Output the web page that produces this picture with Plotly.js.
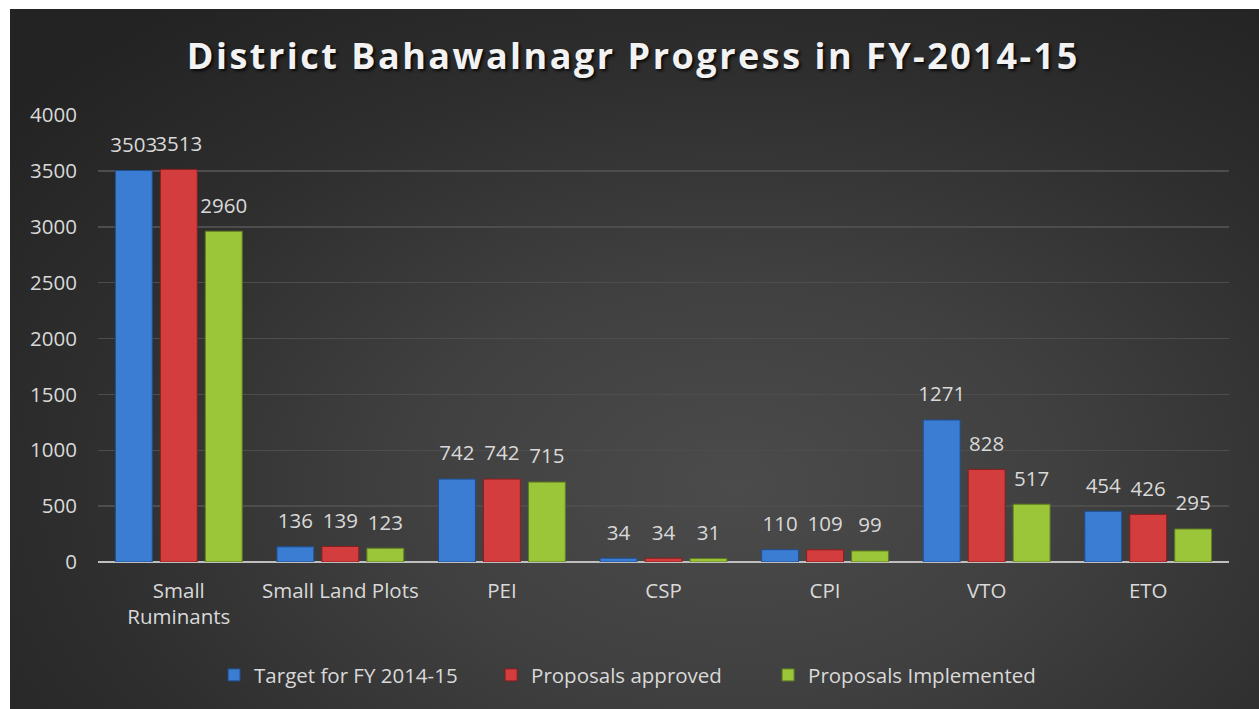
<!DOCTYPE html>
<html>
<head>
<meta charset="utf-8">
<script src="https://cdn.plot.ly/plotly-3.0.1.min.js"></script>
<style>
  html, body { margin:0; padding:0; background:#ffffff; width:1259px; height:709px; overflow:hidden; }
  #bg { position:absolute; left:10px; top:9px; width:1249px; height:700px;
        background: radial-gradient(ellipse 75% 85% at 58% 68%, #4b4b4b 0%, #404040 35%, #2e2e2e 70%, #232323 100%); }
  #chart { position:absolute; left:0; top:0; width:1259px; height:709px; }
  #chart .gtitle { letter-spacing: 2.5px; text-shadow: 2px 2px 3px rgba(0,0,0,0.8); }
</style>
</head>
<body>
<div id="bg"></div>
<div id="chart"></div>
<script>
const categories = ["Small<br>Ruminants", "Small Land Plots", "PEI", "CSP", "CPI", "VTO", "ETO"];
const seriesNames = ["Target for FY 2014-15", "Proposals approved", "Proposals Implemented"];
const targetValues = [3503, 136, 742, 34, 110, 1271, 454];
const approvedValues = [3513, 139, 742, 34, 109, 828, 426];
const implementedValues = [2960, 123, 715, 31, 99, 517, 295];
const yTicks = [0, 500, 1000, 1500, 2000, 2500, 3000, 3500, 4000];

const colors = ["#3b7dd3", "#d43d3d", "#9cc63a"];
const lineColors = ["#1f4f8f", "#8a1f1f", "#5f7d1f"];
const seriesValues = [targetValues, approvedValues, implementedValues];

const BARGAP = 0.165;
const traces = [];
seriesValues.forEach((vals, i) => {
  traces.push({
    type: 'bar', name: seriesNames[i], x: categories, y: vals,
    marker: { color: colors[i], line: { color: lineColors[i], width: 1 } },
    hoverinfo: 'x+y'
  });
});
seriesValues.forEach((vals, i) => {
  traces.push({
    type: 'scatter', mode: 'markers+text', x: categories, y: vals,
    text: vals.map(String), textposition: 'top center',
    textfont: { family: 'Open Sans, sans-serif', size: 20.5, color: '#d9d9d9' },
    marker: { size: 20, color: 'rgba(0,0,0,0)' },
    showlegend: false, hoverinfo: 'skip', cliponaxis: false
  });
});

const layout = {
  width: 1259, height: 709,
  paper_bgcolor: 'rgba(0,0,0,0)', plot_bgcolor: 'rgba(0,0,0,0)',
  margin: { l: 98, r: 30, t: 115, b: 147 },
  barmode: 'group', bargap: BARGAP, bargroupgap: 0.18,
  scattermode: 'group', scattergap: BARGAP,
  font: { family: 'Open Sans, sans-serif', color: '#d9d9d9', size: 20.5 },
  title: {
    text: '<b>District Bahawalnagr Progress in FY-2014-15</b>',
    font: { family: 'Open Sans, sans-serif', size: 36, color: '#f2f2f2' },
    x: 0.503, xref: 'container', xanchor: 'center',
    y: 0.92, yref: 'container', yanchor: 'middle'
  },
  xaxis: {
    type: 'category', showgrid: false, zeroline: false,
    showline: false, ticks: '',
    tickfont: { family: 'Open Sans, sans-serif', size: 20.5, color: '#d9d9d9' },
    ticklabelstandoff: 14
  },
  yaxis: {
    range: [0, 4000], tickvals: yTicks, ticktext: yTicks.map(String),
    showgrid: true, gridcolor: '#4d4d4d', gridwidth: 1.5,
    zeroline: true, zerolinecolor: '#bfbfbf', zerolinewidth: 2.5,
    showline: false, ticks: '',
    tickfont: { family: 'Open Sans, sans-serif', size: 20.5, color: '#d9d9d9' },
    ticklabelstandoff: 20
  },
  legend: {
    orientation: 'h', x: 0.47, xanchor: 'center', y: -0.253, yanchor: 'middle',
    font: { family: 'Open Sans, sans-serif', size: 20.5, color: '#d9d9d9' },
    bgcolor: 'rgba(0,0,0,0)', itemwidth: 30, tracegroupgap: 0,
    entrywidth: 232, entrywidthmode: 'pixels'
  },
  showlegend: true
};

Plotly.newPlot('chart', traces, layout, { displayModeBar: false, staticPlot: true });
</script>
</body>
</html>
